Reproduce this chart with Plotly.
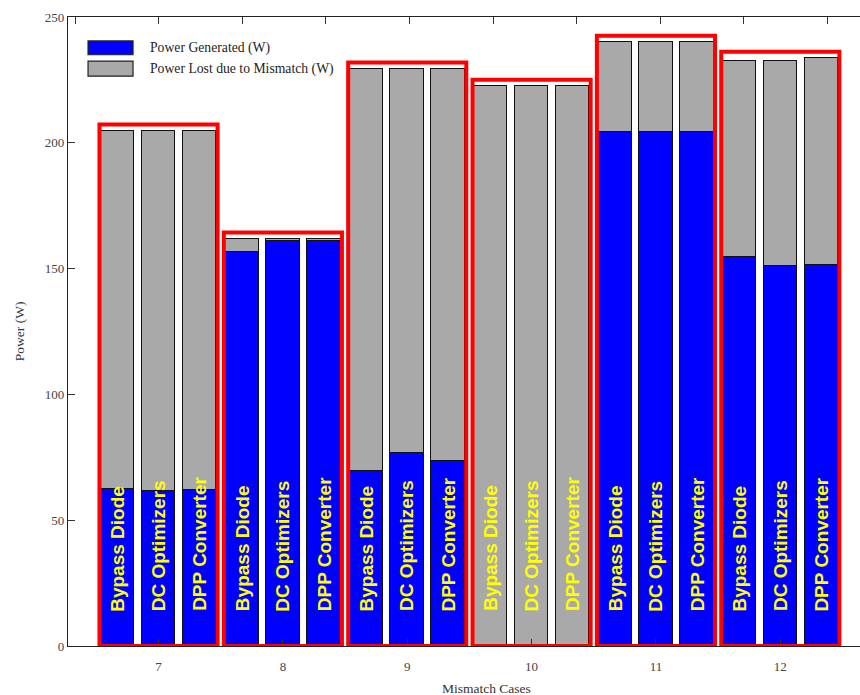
import plotly.graph_objects as go

# Mismatch cases on the x axis and the three mitigation methods per case
cases = [7, 8, 9, 10, 11, 12]
methods = ["Bypass Diode", "DC Optimizers", "DPP Converter"]

# Power generated (W) per method, one value per mismatch case
gen_bypass = [62.5, 156.7, 69.7, 0.0, 204.2, 154.5]
gen_dcopt = [61.6, 161.0, 76.8, 0.0, 204.2, 151.0]
gen_dpp = [62.0, 161.0, 73.6, 0.0, 204.2, 151.3]

# Power lost due to mismatch (W) per method, one value per mismatch case
lost_bypass = [142.3, 5.1, 159.7, 222.6, 35.8, 78.1]
lost_dcopt = [143.2, 0.8, 152.6, 222.6, 35.8, 81.6]
lost_dpp = [142.8, 0.8, 155.8, 222.6, 35.8, 82.4]

y_ticks = [0, 50, 100, 150, 200, 250]

generated = [gen_bypass, gen_dcopt, gen_dpp]
lost = [lost_bypass, lost_dcopt, lost_dpp]

BLUE = "#0000ff"
GREY = "#a9a9a9"
RED = "#ff0000"
YELLOW = "#ffff00"
SERIF = "Liberation Serif, Times New Roman, serif"
SANS = "Liberation Sans, Arial, sans-serif"

offsets = [-0.33, 0.0, 0.33]
bar_w = 0.27
x_range = [6.272, 12.641]

fig = go.Figure()

for k, name in enumerate(methods):
    xs = [c + offsets[k] for c in cases]
    fig.add_trace(go.Bar(
        x=xs, y=generated[k], width=bar_w, name="Power Generated (W)",
        marker=dict(color=BLUE, line=dict(color="#111111", width=1)),
        showlegend=False, hoverinfo="y",
    ))
    fig.add_trace(go.Bar(
        x=xs, y=lost[k], width=bar_w, name="Power Lost due to Mismatch (W)",
        marker=dict(color=GREY, line=dict(color="#111111", width=1)),
        showlegend=False, hoverinfo="y",
    ))

shapes = []
annotations = []

# Red frame around each case group, slightly taller than its highest bar
for i, c in enumerate(cases):
    top = max(generated[k][i] + lost[k][i] for k in range(3)) + 2.5
    shapes.append(dict(type="rect", xref="x", yref="y",
                       x0=c - 0.475, x1=c + 0.475, y0=0, y1=top,
                       line=dict(color=RED, width=4), layer="above"))

# Method names written upward inside each bar
label_base = 13
for k, name in enumerate(methods):
    for c in cases:
        annotations.append(dict(
            x=c + offsets[k], y=label_base, xref="x", yref="y",
            text=name, textangle=-90, showarrow=False,
            xanchor="center", yanchor="bottom",
            font=dict(family=SANS, size=19, color=YELLOW, weight="bold"),
        ))

# Legend drawn as wide swatches in the upper-left corner
legend_items = [("Power Generated (W)", BLUE, 0.962, 0.940),
                ("Power Lost due to Mismatch (W)", GREY, 0.930, 0.906)]
for text, col, y1, y0 in legend_items:
    shapes.append(dict(type="rect", xref="paper", yref="paper",
                       x0=0.0253, x1=0.0821, y0=y0, y1=y1,
                       fillcolor=col, line=dict(color="#222222", width=1.2)))
    annotations.append(dict(x=0.101, y=(y0 + y1) / 2, xref="paper", yref="paper",
                            text=text, showarrow=False, xanchor="left",
                            yanchor="middle",
                            font=dict(family=SERIF, size=13.7, color="#222222")))

# Axis titles
annotations.append(dict(x=0.528, y=-0.067, xref="paper", yref="paper",
                        text="Mismatch Cases", showarrow=False,
                        xanchor="center", yanchor="middle",
                        font=dict(family=SERIF, size=13.5, color="#333333")))
annotations.append(dict(x=-0.061, y=0.5, xref="paper", yref="paper",
                        text="Power (W)", textangle=-90, showarrow=False,
                        xanchor="center", yanchor="middle",
                        font=dict(family=SERIF, size=13.5, color="#333333")))

fig.update_layout(
    width=860, height=695,
    margin=dict(l=68, r=0, t=17, b=49),
    paper_bgcolor="white", plot_bgcolor="white",
    barmode="stack", bargap=0,
    showlegend=False,
    shapes=shapes, annotations=annotations,
    xaxis=dict(
        range=x_range, tickvals=cases, ticktext=[str(c) for c in cases],
        ticks="inside", ticklen=7, tickcolor="#333333",
        showline=True, linecolor="#222222", linewidth=1.2,
        showgrid=False, zeroline=False, ticklabelstandoff=8,
        tickfont=dict(family=SERIF, size=13, color="#444444"),
    ),
    xaxis2=dict(
        overlaying="x", side="top", range=x_range,
        tick0=6.33, dtick=0.672, ticks="inside", ticklen=7,
        tickcolor="#333333", showticklabels=False,
        showline=True, linecolor="#222222", linewidth=1.2,
        showgrid=False, zeroline=False,
    ),
    yaxis=dict(
        range=[0, 250], tickvals=y_ticks,
        ticks="inside", ticklen=7, tickcolor="#333333",
        showline=True, linecolor="#222222", linewidth=1.2,
        showgrid=False, zeroline=False,
        tickfont=dict(family=SERIF, size=13, color="#444444"),
    ),
)

# Invisible trace that activates the top axis
fig.add_trace(go.Scatter(x=[x_range[0]], y=[0], xaxis="x2", mode="markers",
                         marker=dict(opacity=0), showlegend=False,
                         hoverinfo="skip"))

fig.write_html("out.html")
